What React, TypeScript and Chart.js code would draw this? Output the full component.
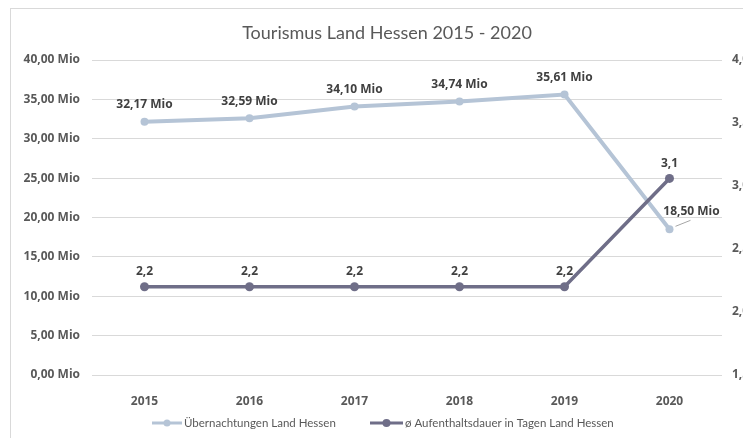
import React, { useEffect, useRef } from "react";
import { Chart, registerables } from "chart.js";

Chart.register(...registerables);

const years = ["2015", "2016", "2017", "2018", "2019", "2020"];
const overnightStays = [32.17, 32.59, 34.1, 34.74, 35.61, 18.5];
const avgStayDays = [2.2, 2.2, 2.2, 2.2, 2.2, 3.06];
const chartTitle = "Tourismus Land Hessen 2015 - 2020";
const seriesNames = ["Übernachtungen Land Hessen", "ø Aufenthaltsdauer in Tagen Land Hessen"];

const LIGHT = "#b5c4d6";
const DARK = "#6f6e88";
const FONT = "Lato, 'Open Sans', sans-serif";
const BOLD_FONT = "'Open Sans', Lato, sans-serif";

const fmtMio = (v: number) => v.toFixed(2).replace(".", ",") + " Mio";
const fmtDays = (v: number) => v.toFixed(1).replace(".", ",");

const overlay = {
  id: "overlay",
  afterDatasetsDraw(chart: any) {
    const ctx = chart.ctx as CanvasRenderingContext2D;
    ctx.save();
    ctx.textAlign = "center";
    ctx.textBaseline = "middle";
    ctx.fillStyle = "#404040";
    ctx.font = `bold 12px ${BOLD_FONT}`;
    const m0 = chart.getDatasetMeta(0);
    const n = m0.data.length;
    m0.data.forEach((pt: any, i: number) => {
      let x = pt.x;
      let y = pt.y - 17;
      if (i === n - 1) {
        x = pt.x + 22;
        y = pt.y - 18;
        ctx.strokeStyle = "#a6a6a6";
        ctx.lineWidth = 1;
        ctx.beginPath();
        ctx.moveTo(pt.x + 6, pt.y - 3);
        ctx.lineTo(pt.x + 21, pt.y - 9);
        ctx.stroke();
      }
      ctx.fillText(fmtMio(overnightStays[i]), x, y);
    });
    const m1 = chart.getDatasetMeta(1);
    m1.data.forEach((pt: any, i: number) => {
      ctx.fillText(fmtDays(avgStayDays[i]), pt.x, pt.y - 15);
    });

    // title
    ctx.fillStyle = "#595959";
    ctx.font = `18px ${FONT}`;
    ctx.fillText(chartTitle, 379, 25);

    // legend
    const ly = 415;
    const items = [
      { x0: 144, x1: 174, color: LIGHT, lw: 3, r: 3.5 },
      { x0: 362, x1: 395, color: DARK, lw: 3, r: 4 },
    ];
    ctx.font = `11.5px ${FONT}`;
    ctx.textAlign = "left";
    items.forEach((it, i) => {
      ctx.strokeStyle = it.color;
      ctx.lineWidth = it.lw;
      ctx.beginPath();
      ctx.moveTo(it.x0, ly);
      ctx.lineTo(it.x1, ly);
      ctx.stroke();
      ctx.fillStyle = it.color;
      ctx.beginPath();
      ctx.arc((it.x0 + it.x1) / 2, ly, it.r, 0, Math.PI * 2);
      ctx.fill();
      ctx.fillStyle = "#595959";
      ctx.fillText(seriesNames[i], it.x1 + 2, ly);
    });
    ctx.restore();
  },
};

export default function App() {
  const ref = useRef<HTMLCanvasElement | null>(null);

  useEffect(() => {
    document.documentElement.style.overflow = "hidden";
    document.body.style.overflow = "hidden";
    if (!ref.current) return;
    const tickFont = { family: BOLD_FONT, size: 12, weight: "bold" as const };
    const chart = new Chart(ref.current, {
      type: "line",
      data: {
        labels: years,
        datasets: [
          {
            label: seriesNames[0],
            data: overnightStays,
            yAxisID: "y",
            borderColor: LIGHT,
            backgroundColor: LIGHT,
            borderWidth: 4,
            pointRadius: 4,
            pointBackgroundColor: LIGHT,
            pointBorderWidth: 0,
            tension: 0,
            order: 1,
          },
          {
            label: seriesNames[1],
            data: avgStayDays,
            yAxisID: "y1",
            borderColor: DARK,
            backgroundColor: DARK,
            borderWidth: 3.5,
            pointRadius: 4.5,
            pointBackgroundColor: DARK,
            pointBorderWidth: 0,
            tension: 0,
            order: 0,
          },
        ],
      },
      options: {
        responsive: false,
        animation: false,
        layout: { padding: { top: 52, left: 0, right: 0, bottom: 0 } },
        plugins: {
          legend: { display: false },
          title: { display: false },
          tooltip: { enabled: false },
        },
        scales: {
          x: {
            offset: true,
            grid: { display: false },
            border: { display: false },
            ticks: { font: tickFont, color: "#595959", padding: 11 },
            afterFit: (s: any) => {
              s.height = 63;
            },
          },
          y: {
            position: "left",
            min: 0,
            max: 40,
            ticks: {
              stepSize: 5,
              font: tickFont,
              color: "#595959",
              padding: 12,
              callback: (v: any) => fmtMio(Number(v)),
            },
            grid: { color: "#d9d9d9", drawTicks: false, lineWidth: 1 },
            border: { display: false },
            afterFit: (s: any) => {
              s.width = 84;
            },
          },
          y1: {
            position: "right",
            min: 1.5,
            max: 4,
            ticks: {
              stepSize: 0.5,
              font: tickFont,
              color: "#595959",
              padding: 10,
              callback: (v: any) => fmtDays(Number(v)),
            },
            grid: { display: false, drawTicks: false },
            border: { display: false },
            afterFit: (s: any) => {
              s.width = 86;
            },
          },
        },
      },
      plugins: [overlay],
    });
    return () => chart.destroy();
  }, []);

  return (
    <div style={{ position: "relative", width: 800, height: 430, overflow: "hidden" }}>
      <div
        style={{
          position: "absolute",
          left: 2,
          top: 0,
          width: 820,
          height: 470,
          border: "1px solid #d9d9d9",
          boxSizing: "border-box",
        }}
      />
      <canvas
        ref={ref}
        width={800}
        height={430}
        style={{ position: "absolute", left: 0, top: 0, width: 800, height: 430 }}
      />
    </div>
  );
}
